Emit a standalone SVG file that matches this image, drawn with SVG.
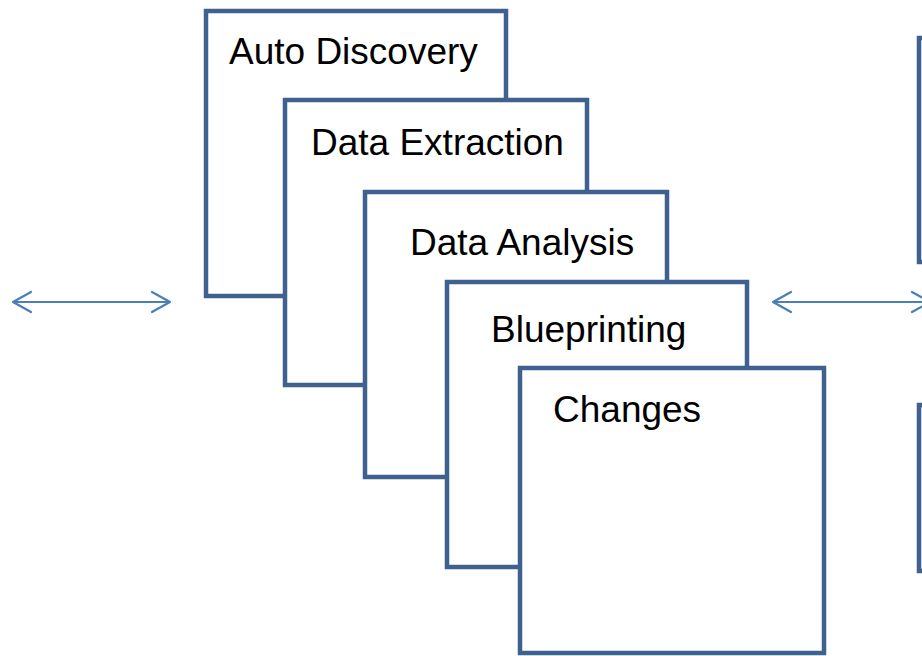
<svg xmlns="http://www.w3.org/2000/svg" width="922" height="656" viewBox="0 0 922 656">
<style>
.box{fill:#ffffff;stroke:#3F618F;stroke-width:4.5}
.lbl{font-family:"Liberation Sans",Arial,sans-serif;font-size:37px;fill:#000000}
.conn{fill:none;stroke:#4A7EBB;stroke-width:2.2;stroke-linecap:round;stroke-linejoin:round}
</style>
<rect width="922" height="656" fill="#ffffff"/>
<g id="node-right-top"><rect class="box" x="919" y="38" width="40" height="224"/></g>
<g id="node-right-bottom"><rect class="box" x="919" y="405" width="40" height="166"/></g>
<g id="node-auto-discovery"><rect class="box" x="206" y="11" width="300" height="285"/><text class="lbl" x="229" y="64">Auto Discovery</text></g>
<g id="node-data-extraction"><rect class="box" x="285" y="100" width="302" height="285"/><text class="lbl" x="311" y="155">Data Extraction</text></g>
<g id="node-data-analysis"><rect class="box" x="365" y="192" width="302" height="285"/><text class="lbl" x="410" y="255">Data Analysis</text></g>
<g id="node-blueprinting"><rect class="box" x="447" y="282" width="300" height="285"/><text class="lbl" x="491" y="342">Blueprinting</text></g>
<g id="node-changes"><rect class="box" x="520" y="368" width="304" height="285"/><text class="lbl" x="553" y="422">Changes</text></g>
<g id="connectors">
<path class="conn" d="M13,302 H170 M31,292 L13,302 L31,312 M152,292 L170,302 L152,312"/>
<path class="conn" d="M773,302 H930 M791,292 L773,302 L791,312 M912,292 L930,302 L912,312"/>
</g>
</svg>
